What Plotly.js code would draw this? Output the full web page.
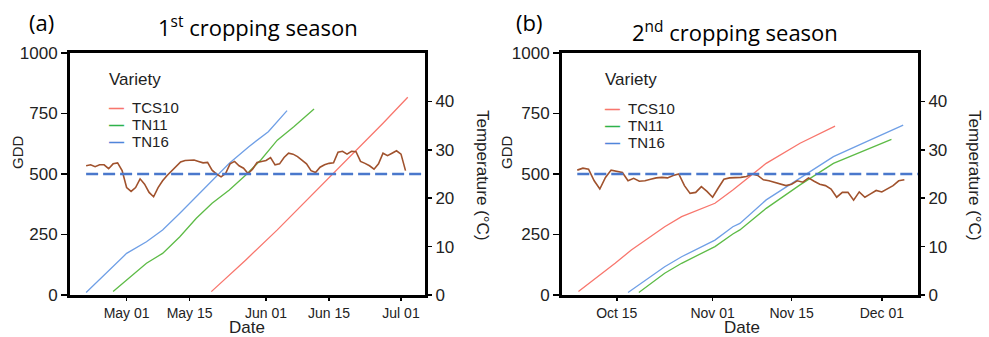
<!DOCTYPE html>
<html>
<head>
<meta charset="utf-8">
<script src="https://cdn.plot.ly/plotly-3.0.1.min.js"></script>
<style>html,body{margin:0;padding:0;background:#fff;}#chart{width:989px;height:337px;}</style>
</head>
<body>
<div id="chart"></div>
<script>
// ---------- Data: 1st cropping season (a) ----------
const a_TCS10_dates = ['2021-05-19 20:00','2021-05-27 12:00','2021-06-03 12:00','2021-06-10 20:00','2021-06-16','2021-06-21 20:00','2021-06-27','2021-07-02 12:00'];
const a_TCS10_gdd   = [14,145,269,406,503,613,710,817];
const a_TN11_dates  = ['2021-04-28','2021-05-01','2021-05-05 10:00','2021-05-09','2021-05-12 20:00','2021-05-16 12:00','2021-05-20','2021-05-23 20:00','2021-05-27 12:00','2021-05-30 20:00','2021-06-03 12:00','2021-06-07 04:00','2021-06-11 16:00'];
const a_TN11_gdd    = [14,62,131,172,241,317,379,434,496,558,640,695,769];
const a_TN16_dates  = ['2021-04-22','2021-05-01','2021-05-05 10:00','2021-05-09','2021-05-12 20:00','2021-05-16 12:00','2021-05-20','2021-05-23 20:00','2021-05-28 04:00','2021-06-01 12:00','2021-06-05 16:00'];
const a_TN16_gdd    = [10,172,220,269,338,406,475,544,613,675,762];
const a_temp_start  = '2021-04-22';
const a_temp = [26.7,26.9,26.5,26.9,26.9,26.1,27.1,27.3,25.7,22.2,21.4,22.2,24.0,22.9,21.2,20.3,22.2,23.6,24.7,25.6,
                26.5,27.5,27.8,27.9,27.9,27.6,27.3,27.4,25.8,25.0,24.4,25.1,27.1,27.6,26.7,26.2,25.1,26.0,27.4,27.6,
                27.8,28.4,26.9,27.1,28.4,29.3,29.1,28.6,27.9,27.1,25.7,25.3,26.4,26.9,27.2,27.3,29.5,29.7,29.1,29.7,
                29.6,27.6,27.2,26.7,26.0,27.1,29.3,28.8,29.3,29.8,29.1,25.7];
const a_xrange = ['2021-04-18 10:00','2021-07-06 08:00'];
const a_xticks = ['2021-05-01','2021-05-15','2021-06-01','2021-06-15','2021-07-01'];

// ---------- Data: 2nd cropping season (b) ----------
const b_TCS10_dates = ['2021-10-08 05:00','2021-10-11 17:00','2021-10-14 17:00','2021-10-17 14:00','2021-10-20 14:00','2021-10-23 12:00','2021-10-26 12:00','2021-10-29 10:00','2021-11-01 10:00','2021-11-04 14:00','2021-11-10 12:00','2021-11-16 12:00','2021-11-22 17:00'];
const b_TCS10_gdd   = [14,76,131,186,234,282,324,351,379,434,544,627,698];
const b_TN11_dates  = ['2021-10-18 22:00','2021-10-23 12:00','2021-10-26 12:00','2021-10-29 10:00','2021-11-01 10:00','2021-11-04 14:00','2021-11-05 20:00','2021-11-10 12:00','2021-11-16 12:00','2021-11-22 10:00','2021-11-28 07:00','2021-12-02 17:00'];
const b_TN11_gdd    = [10,90,131,165,200,252,269,358,455,544,599,643];
const b_TN16_dates  = ['2021-10-17','2021-10-20 14:00','2021-10-23 12:00','2021-10-26 12:00','2021-10-29 10:00','2021-11-01 10:00','2021-11-04 14:00','2021-11-05 20:00','2021-11-10 12:00','2021-11-16 12:00','2021-11-22 10:00','2021-11-28 07:00','2021-12-04 19:00'];
const b_TN16_gdd    = [10,69,117,158,193,227,282,296,393,482,572,634,702];
const b_temp_start  = '2021-10-08';
const b_temp = [25.8,26.2,26.0,23.6,21.9,24.3,25.8,25.6,25.3,23.6,24.1,23.5,23.6,23.9,24.2,24.3,24.2,24.7,25.0,22.6,
                21.0,21.2,22.4,21.4,20.2,22.1,23.9,24.2,24.2,24.3,24.5,25.0,24.7,23.8,23.6,23.3,22.9,22.6,22.9,23.6,
                23.3,24.2,23.5,22.9,22.6,21.9,20.2,21.2,21.2,19.6,21.3,20.2,20.9,21.6,21.3,21.9,22.6,23.6,23.8];
const b_xrange = ['2021-10-05 07:00','2021-12-07 10:00'];
const b_xticks = ['2021-10-15','2021-11-01','2021-11-15','2021-12-01'];

const varieties = ['TCS10','TN11','TN16'];
const gddTicks  = [0,250,500,750,1000];
const tempTicks = [0,10,20,30,40];
const thresholdGDD = 500;

// ---------- Styles ----------
const colors = {TCS10:'#F8766D', TN11:'#5DBB46', TN16:'#6F9FE6'};
const legendColors = {TCS10:'#F8766D', TN11:'#2EB34A', TN16:'#4F86DA'};
const tempColor = '#A0522D';
const dashColor = '#4A78CC';
const FONT = 'Liberation Sans, Arial, sans-serif';
const TFONT = 'Open Sans, sans-serif';

function dailyDates(start, n){
  const out=[]; const d=new Date(start+'T00:00:00Z');
  for(let i=0;i<n;i++){ const t=new Date(d.getTime()+i*86400000); out.push(t.toISOString().slice(0,10)); }
  return out;
}
const a_temp_dates = dailyDates(a_temp_start, a_temp.length);
const b_temp_dates = dailyDates(b_temp_start, b_temp.length);

function gddTrace(x,y,name,xa,ya){
  return {type:'scatter',mode:'lines',x:x,y:y,name:name,xaxis:xa,yaxis:ya,showlegend:false,
          line:{color:colors[name],width:1.3},hoverinfo:'skip'};
}
function tempTrace(x,y,xa,ya){
  return {type:'scatter',mode:'lines',x:x,y:y,name:'Temperature',xaxis:xa,yaxis:ya,showlegend:false,
          line:{color:tempColor,width:1.6},hoverinfo:'skip'};
}

const data = [
  tempTrace(a_temp_dates,a_temp,'x','y2'),
  gddTrace(a_TCS10_dates,a_TCS10_gdd,'TCS10','x','y'),
  gddTrace(a_TN11_dates,a_TN11_gdd,'TN11','x','y'),
  gddTrace(a_TN16_dates,a_TN16_gdd,'TN16','x','y'),
  tempTrace(b_temp_dates,b_temp,'x2','y4'),
  gddTrace(b_TCS10_dates,b_TCS10_gdd,'TCS10','x2','y3'),
  gddTrace(b_TN11_dates,b_TN11_gdd,'TN11','x2','y3'),
  gddTrace(b_TN16_dates,b_TN16_gdd,'TN16','x2','y3')
];

function xAxis(domain, range, ticks, anchor){
  return {domain:domain, range:range, type:'date', anchor:anchor, tickvals:ticks, tickformat:'%b %d',
          showgrid:false, zeroline:false, showline:true, mirror:true, linecolor:'#000', linewidth:3,
          ticks:'outside', ticklen:3, tickwidth:1.5, tickcolor:'#000',
          tickfont:{family:FONT,size:14,color:'#222'}};
}
function yLeft(anchor){
  return {range:[0,1000], anchor:anchor, tickvals:gddTicks, showgrid:false, zeroline:false,
          showline:true, mirror:true, linecolor:'#000', linewidth:3,
          ticks:'outside', ticklen:6, tickwidth:1.5, tickcolor:'#000',
          tickfont:{family:FONT,size:17,color:'#222'}};
}
function yRight(anchor, overlay){
  return {range:[0,50], anchor:anchor, overlaying:overlay, side:'right', tickvals:tempTicks,
          showgrid:false, zeroline:false, showline:false,
          ticks:'outside', ticklen:6, tickwidth:1.5, tickcolor:'#000',
          tickfont:{family:FONT,size:17,color:'#222'}};
}

const W=989, H=337, ML=70, MR=71, MT=53, MB=42;
const PW=W-ML-MR, PH=H-MT-MB;
const px=v=>(v-ML)/PW, py=v=>(H-MB-v)/PH;

function ann(text,x,y,size,opts){
  return Object.assign({text:text,x:px(x),y:py(y),xref:'paper',yref:'paper',xanchor:'center',yanchor:'middle',
    showarrow:false,font:{family:FONT,size:size,color:'#222'}},opts||{});
}

function legendAnn(xLeft, yTitle, ys){
  const anns=[ann('Variety',xLeft,yTitle,17,{xanchor:'left'})];
  varieties.forEach((v,i)=>{
    anns.push(ann('<b><span style="color:'+legendColors[v]+'">—</span></b>  '+v,xLeft,ys[i],15,{xanchor:'left'}));
  });
  return anns;
}

const annotations = [
  ann('(a)',41,22,22,{font:{family:TFONT,size:22,color:'#000'}}),
  ann('1<sup>st</sup> cropping season',258,27,22,{font:{family:TFONT,size:22,color:'#000'}}),
  ann('(b)',529,22,22,{font:{family:TFONT,size:22,color:'#000'}}),
  ann('2<sup>nd</sup> cropping season',735,31,22,{font:{family:TFONT,size:22,color:'#000'}}),
  ann('GDD',17,152,15,{textangle:-90}),
  ann('GDD',506,152,15,{textangle:-90}),
  ann('Temperature (°C)',483,175,17,{textangle:90}),
  ann('Temperature (°C)',975,175,17,{textangle:90}),
  ann('Date',247,328,17),
  ann('Date',742,328,17)
].concat(legendAnn(107,80,[107,124,141])).concat(legendAnn(603,80,[108,125,142]));

const shapes = [
  {type:'line',xref:'x',yref:'y',x0:a_temp_dates[0],x1:a_xrange[1],y0:thresholdGDD,y1:thresholdGDD,
   line:{color:dashColor,width:2.4,dash:'12px,5px'}},
  {type:'line',xref:'x2',yref:'y3',x0:b_temp_dates[0],x1:b_xrange[1],y0:thresholdGDD,y1:thresholdGDD,
   line:{color:dashColor,width:2.4,dash:'12px,5px'}}
];

const layout = {
  width:W, height:H, margin:{l:ML,r:MR,t:MT,b:MB}, paper_bgcolor:'#fff', plot_bgcolor:'#fff',
  showlegend:false, font:{family:FONT},
  xaxis: xAxis([0, px(425)], a_xrange, a_xticks, 'y'),
  yaxis: yLeft('x'),
  yaxis2: yRight('x','y'),
  xaxis2: xAxis([px(562), 1], b_xrange, b_xticks, 'y3'),
  yaxis3: yLeft('x2'),
  yaxis4: yRight('x2','y3'),
  annotations: annotations,
  shapes: shapes
};

Plotly.newPlot('chart', data, layout, {staticPlot:true, displayModeBar:false});
</script>
</body>
</html>
